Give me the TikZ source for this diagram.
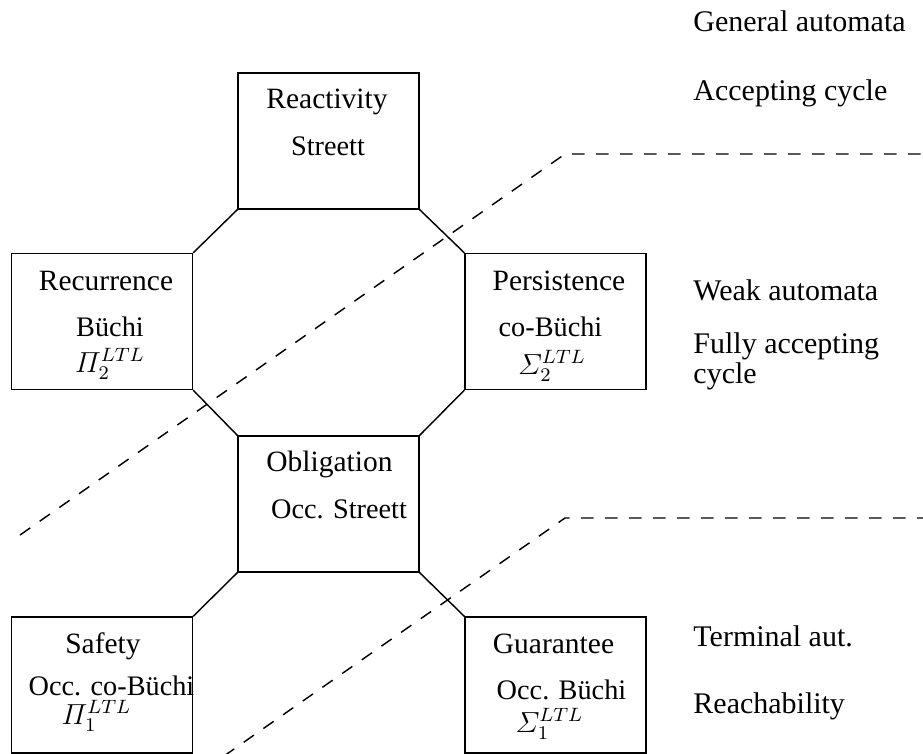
\documentclass[tikz,border=0pt]{standalone}
\usepackage{amsmath}
\usepackage{fontspec}
\setmainfont{Liberation Serif}
\begin{document}
\begin{tikzpicture}[x=0.4138pt,y=-0.4138pt,
  box/.style={draw,line width=0.6pt,inner sep=0pt,minimum width=181*0.4138pt,minimum height=136*0.4138pt},
  link/.style={line width=0.6pt},
  sep/.style={line width=0.6pt,dash pattern=on 12.5*0.4138pt off 11.5*0.4138pt},
  ttl/.style={anchor=base,inner sep=0pt,font=\fontsize{12.2}{14}\selectfont},
  sub/.style={anchor=base,inner sep=0pt,font=\fontsize{11.7}{13}\selectfont},
  mth/.style={anchor=base,inner sep=0pt,font=\fontsize{12}{13}\selectfont},
  side/.style={anchor=base west,inner sep=0pt,align=left,font=\fontsize{12.4}{12.4}\selectfont}]
\useasboundingbox (0,0) rectangle (923,753);
% boxes
\node[box] (rea) at (328.5,141) {};
\node[box] (rec) at (102,321.5) {};
\node[box] (per) at (555.5,321.5) {};
\node[box] (obl) at (328.5,504) {};
\node[box] (saf) at (102,685) {};
\node[box] (gua) at (555.5,685) {};
% connectors
\draw[link] (rea.south west) -- (rec.north east);
\draw[link] (rea.south east) -- (per.north west);
\draw[link] (rec.south east) -- (obl.north west);
\draw[link] (per.south west) -- (obl.north east);
\draw[link] (obl.south west) -- (saf.north east);
\draw[link] (obl.south east) -- (gua.north west);
% dashed separators
\coordinate (d1a) at (20,535);
\coordinate (d1b) at (565,154);
\coordinate (d1c) at (930,154);
\coordinate (d2a) at (224,756);
\coordinate (d2b) at (565,518);
\coordinate (d2c) at (930,518);
\draw[sep] (d1a) -- (d1b) -- (d1c);
\draw[sep] (d2a) -- (d2b) -- (d2c);
% box texts
\node[ttl] (t1) at (327,108) {Reactivity};
\node[sub] (s1) at (328,155) {Streett};
\node[ttl] (t2) at (106,290) {Recurrence};
\node[sub] (s2) at (110,336) {Büchi};
\node[mth] (m2) at (110,372) {$\varPi_2^{LTL}$};
\node[ttl] (t3) at (559,290.5) {Persistence};
\node[sub] (s3) at (550.5,336) {co-Büchi};
\node[mth] (m3) at (552,374) {$\varSigma_2^{LTL}$};
\node[ttl] (t4) at (329.5,471.5) {Obligation};
\node[sub] (s4) at (339,518.5) {Occ. Streett};
\node[ttl] (t5) at (103,653) {Safety};
\node[sub] (s5) at (111.5,695) {Occ. co-Büchi};
\node[mth] (m5) at (96.5,724) {$\varPi_1^{LTL}$};
\node[ttl] (t6) at (553.5,653.5) {Guarantee};
\node[sub] (s6) at (561.5,699.5) {Occ. Büchi};
\node[mth] (m6) at (549.5,732.5) {$\varSigma_1^{LTL}$};
% side texts
\node[side] (r1) at (693,32) {General automata};
\node[side] (r2) at (693,100) {Accepting cycle};
\node[side] (r3) at (693,300) {Weak automata};
\node[side] (r4) at (693,383) {Fully accepting\\cycle};
\node[side] (r5) at (693,646) {Terminal aut.};
\node[side] (r6) at (693,713) {Reachability};
\end{tikzpicture}
\end{document}
